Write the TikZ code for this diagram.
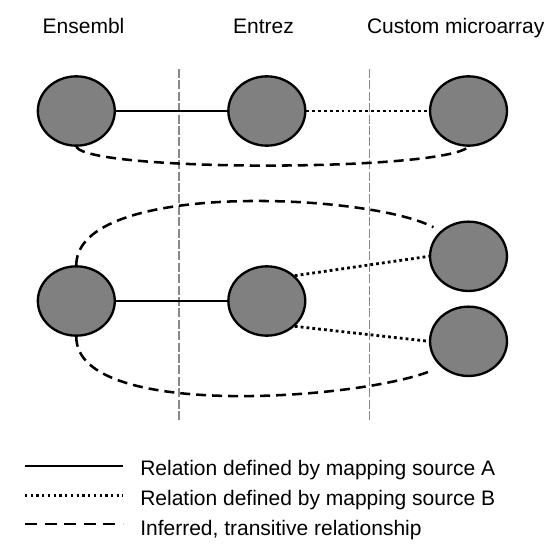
\documentclass[tikz,border=0pt]{standalone}
\usepackage{fontspec}
\setmainfont{Liberation Sans}
\usetikzlibrary{shapes.geometric}

\tikzset{
	idnode/.style={ellipse, draw=black, line width=1.75pt, fill={rgb, 255:red, 128; green, 128; blue, 128 }, minimum width=57.7pt, minimum height=52pt, inner sep=0pt},
	mapA/.style={line width=1.4pt},
	mapB/.style={line width=2.1pt, dash pattern=on 2.1pt off 2.3pt},
	inferred/.style={line width=1.9pt, dash pattern=on 7.5pt off 4.5pt},
	divider/.style={color={rgb, 255:red, 136; green, 136; blue, 136 }, line width=0.9pt, dash pattern=on 6.75pt off 1.8pt},
	headtext/.style={anchor=base, inner sep=0pt, font=\fontsize{15.75}{19}\selectfont},
	legtext/.style={anchor=base west, inner sep=0pt, font=\fontsize{15.75}{19}\selectfont}
}

\begin{document}
\begin{tikzpicture}[x=0.75pt,y=0.75pt,yscale=-1,xscale=1]
	\useasboundingbox (0,0) rectangle (549,549);
	
	% Text Node
	\node [headtext] (hEns) at (83.5,33.3) {Ensembl};
	% Text Node
	\node [headtext] (hEnt) at (263.5,33.3) {Entrez};
	% Text Node
	\node [headtext] (hCus) at (455.7,33.3) {Custom microarray};
	
	%Shape: Line (dividers)
	\draw [divider] (179,69) -- (179,420);
	\draw [divider] (369.3,69) -- (369.3,420);
	
	%Shape: Ellipse (top row)
	\node [idnode] (ens1) at (76.3,111) {};
	\node [idnode] (ent1) at (266.8,111) {};
	\node [idnode] (cus1) at (468.5,111) {};
	
	%Shape: Ellipse (bottom row)
	\node [idnode] (ens2) at (76.3,301) {};
	\node [idnode] (ent2) at (266.8,301) {};
	\node [idnode] (cus2) at (468.5,256.3) {};
	\node [idnode] (cus3) at (468.5,341.3) {};
	
	% top row relations
	\draw [mapA] (ens1) -- (ent1);
	\draw [mapB] (ent1) -- (cus1);
	\draw [inferred] (ens1.south) .. controls +(14,25) and +(-28,25) .. (cus1.south);
	
	% bottom row relations
	\draw [mapA] (ens2) -- (ent2);
	\draw [mapB] (ent2.north east) -- (cus2.west);
	\draw [mapB] (ent2.south east) -- (cus3.west);
	\draw [inferred, shorten >=6pt] (ens2.north) .. controls +(0,-85) and +(-72,-38) .. (cus2.north west);
	\draw [inferred, shorten >=6pt] (ens2.south) .. controls +(0,85) and +(-72,32) .. (cus3.south west);
	
	% Legend
	\coordinate (legA1) at (25,466);
	\coordinate (legA2) at (123,466);
	\coordinate (legB1) at (25,495.5);
	\coordinate (legB2) at (123,495.5);
	\coordinate (legC1) at (25,524);
	\coordinate (legC2) at (123,524);
	\draw [mapA, line width=1.7pt] (legA1) -- (legA2);
	\draw [mapB, line width=1.7pt, dash pattern=on 1.7pt off 2.6pt] (legB1) -- (legB2);
	\draw [inferred, line width=1.7pt, dash pattern=on 9pt off 5.7pt] (legC1) -- (legC2);
	% Text Node
	\node [legtext] (txtA) at (140,475) {Relation defined by mapping source A};
	% Text Node
	\node [legtext] (txtB) at (140,505.5) {Relation defined by mapping source B};
	% Text Node
	\node [legtext] (txtC) at (140,535) {Inferred, transitive relationship};
	
\end{tikzpicture}
\end{document}
